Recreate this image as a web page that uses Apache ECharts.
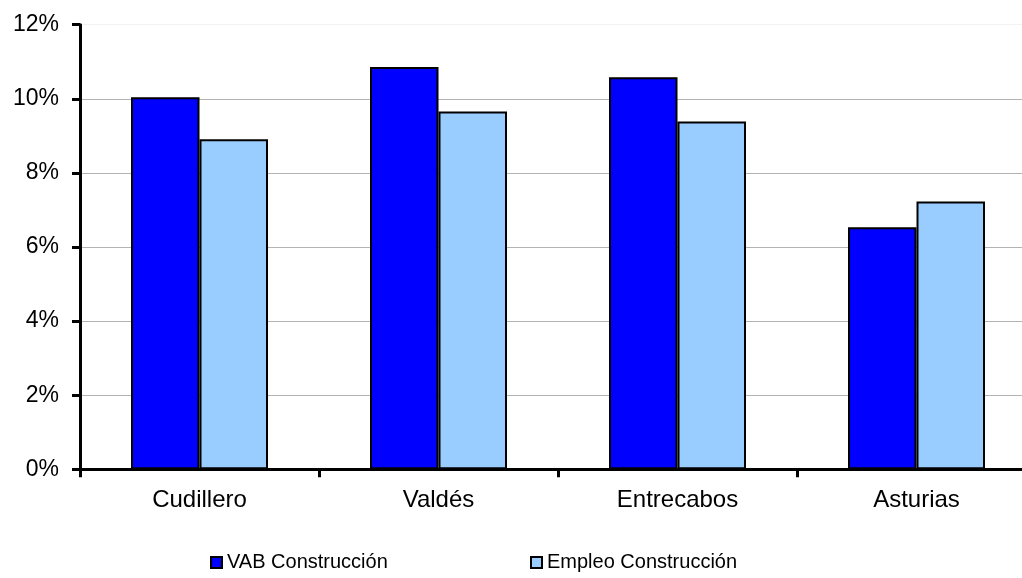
<!DOCTYPE html>
<html>
<head>
<meta charset="utf-8">
<script src="https://cdn.jsdelivr.net/npm/echarts@6/dist/echarts.min.js"></script>
<style>
html,body{margin:0;padding:0;background:#fff;overflow:hidden;width:1022px;height:578px;}
#chart{width:1036px;height:578px;}
</style>
</head>
<body>
<div id="chart"></div>
<script>
var categories = ['Cudillero', 'Valdés', 'Entrecabos', 'Asturias'];
var vabConstruccion = [10.04, 10.86, 10.58, 6.53];
var empleoConstruccion = [8.91, 9.66, 9.39, 7.23];
var seriesNames = ['VAB Construcción', 'Empleo Construcción'];

var chart = echarts.init(document.getElementById('chart'));
var font = '"Liberation Sans", Arial, sans-serif';
chart.setOption({
  animation: false,
  backgroundColor: '#ffffff',
  grid: { left: 80, right: 0, top: 24.7, bottom: 108.7, containLabel: false },
  legend: [
    { data: [seriesNames[0]], left: 210, top: 551.5, padding: 0, itemWidth: 11, itemHeight: 11, itemGap: 0,
      icon: 'rect', textStyle: { fontFamily: font, fontSize: 20, color: '#000', lineHeight: 22 } },
    { data: [seriesNames[1]], left: 530, top: 551.5, padding: 0, itemWidth: 11, itemHeight: 11, itemGap: 0,
      icon: 'rect', textStyle: { fontFamily: font, fontSize: 20, color: '#000', lineHeight: 22 } }
  ],
  xAxis: {
    type: 'category',
    data: categories,
    axisLine: { lineStyle: { color: '#000', width: 3 } },
    axisTick: { show: true, length: 8, lineStyle: { color: '#000', width: 3 } },
    axisLabel: { fontFamily: font, fontSize: 24, color: '#000', margin: 19 },
    splitLine: { show: false }
  },
  yAxis: {
    type: 'value',
    min: 0, max: 12, interval: 2,
    axisLine: { show: true, lineStyle: { color: '#000', width: 3 } },
    axisTick: { show: true, length: 8, lineStyle: { color: '#000', width: 3 } },
    axisLabel: { fontFamily: font, fontSize: 23, color: '#000', margin: 21, formatter: '{value}%' },
    splitLine: { show: true, lineStyle: { color: ['#b3b3b3','#b3b3b3','#b3b3b3','#b3b3b3','#b3b3b3','#b3b3b3','#f2f2f2'], width: 1 } }
  },
  series: [
    { name: seriesNames[0], type: 'bar', data: vabConstruccion, barWidth: 68.5, barGap: '0%',
      itemStyle: { color: '#0000FF', borderColor: '#000', borderWidth: 2 } },
    { name: seriesNames[1], type: 'bar', data: empleoConstruccion, barWidth: 68.5, barGap: '0%',
      itemStyle: { color: '#99CCFF', borderColor: '#000', borderWidth: 2 } }
  ]
});
</script>
</body>
</html>
